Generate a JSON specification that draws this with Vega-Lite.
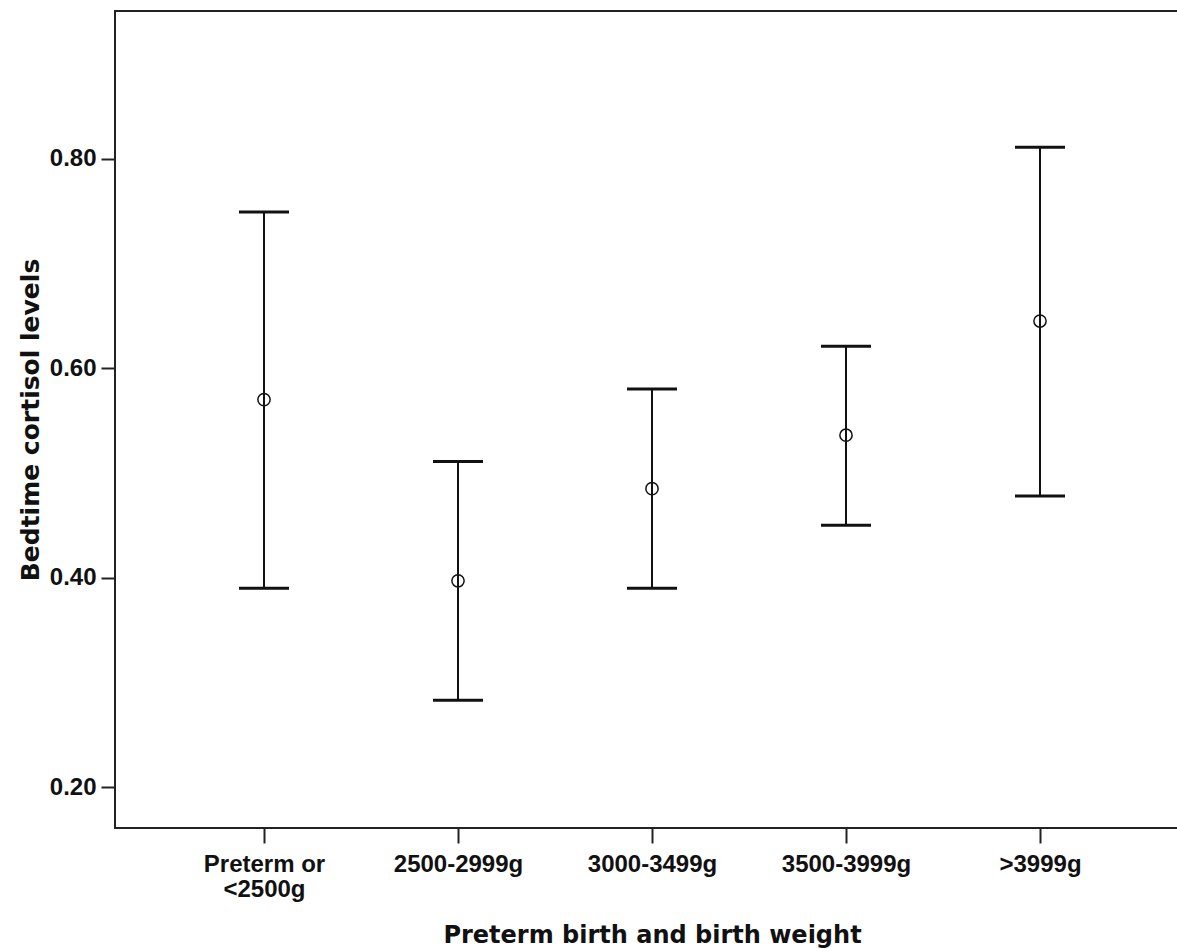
{
  "$schema": "https://vega.github.io/schema/vega-lite/v6.json",
  "autosize": {"type": "none"},
  "padding": {"left": 115, "top": 11, "right": 0, "bottom": 124},
  "width": 1074,
  "height": 817,
  "background": "white",
  "config": {
    "view": {"stroke": "#222", "strokeWidth": 2},
    "axis": {"grid": false, "domain": false, "tickColor": "#222", "tickWidth": 2, "labelColor": "#111", "titleColor": "#111"}
  },
  "data": {
    "values": [
      {"group": "Preterm or <2500g", "mean": 0.570, "lo": 0.390, "hi": 0.749},
      {"group": "2500-2999g", "mean": 0.397, "lo": 0.283, "hi": 0.511},
      {"group": "3000-3499g", "mean": 0.485, "lo": 0.390, "hi": 0.580},
      {"group": "3500-3999g", "mean": 0.536, "lo": 0.450, "hi": 0.621},
      {"group": ">3999g", "mean": 0.645, "lo": 0.478, "hi": 0.811}
    ]
  },
  "encoding": {
    "x": {
      "field": "group", "type": "nominal",
      "sort": ["Preterm or <2500g", "2500-2999g", "3000-3499g", "3500-3999g", ">3999g"],
      "scale": {"type": "point", "padding": 0.768},
      "axis": {
        "title": "Preterm birth and birth weight",
        "labelAngle": 0,
        "labelFont": "Liberation Sans", "labelFontWeight": "bold", "labelFontSize": 24,
        "labelLineHeight": 25,
        "labelExpr": "datum.label == 'Preterm or <2500g' ? ['Preterm or', '<2500g'] : datum.label",
        "tickSize": 15, "labelPadding": 9,
        "titleFont": "DejaVu Sans", "titleFontWeight": "bold", "titleFontSize": 24,
        "titlePadding": 22
      }
    }
  },
  "layer": [
    {
      "mark": {"type": "rule", "color": "#111", "strokeWidth": 2},
      "encoding": {
        "y": {"field": "lo", "type": "quantitative",
          "scale": {"domain": [0.161, 0.941], "nice": false, "zero": false},
          "axis": {
            "title": "Bedtime cortisol levels",
            "values": [0.2, 0.4, 0.6, 0.8], "format": ".2f",
            "labelFont": "Liberation Sans", "labelFontWeight": "bold", "labelFontSize": 24,
            "tickSize": 14, "labelPadding": 5,
            "titleFont": "DejaVu Sans", "titleFontWeight": "bold", "titleFontSize": 25,
            "titlePadding": 6
          }
        },
        "y2": {"field": "hi"}
      }
    },
    {
      "mark": {"type": "tick", "orient": "horizontal", "color": "#111", "size": 50, "thickness": 3, "opacity": 1},
      "encoding": {"y": {"field": "hi", "type": "quantitative"}}
    },
    {
      "mark": {"type": "tick", "orient": "horizontal", "color": "#111", "size": 50, "thickness": 3, "opacity": 1},
      "encoding": {"y": {"field": "lo", "type": "quantitative"}}
    },
    {
      "mark": {"type": "point", "shape": "circle", "filled": false, "color": "#111", "size": 150, "strokeWidth": 1.5, "opacity": 1},
      "encoding": {"y": {"field": "mean", "type": "quantitative"}}
    }
  ]
}
